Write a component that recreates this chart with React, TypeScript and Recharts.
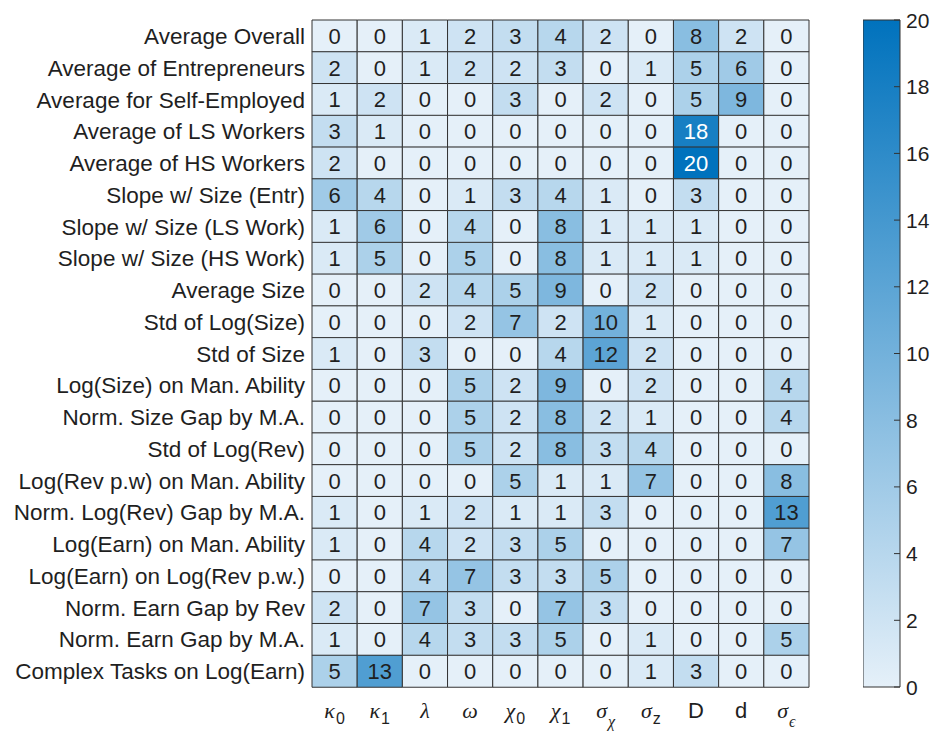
import { BarChart, Bar, XAxis, YAxis, Cell, LabelList } from "recharts";

const rowLabels = [
  "Average Overall",
  "Average of Entrepreneurs",
  "Average for Self-Employed",
  "Average of LS Workers",
  "Average of HS Workers",
  "Slope w/ Size (Entr)",
  "Slope w/ Size (LS Work)",
  "Slope w/ Size (HS Work)",
  "Average Size",
  "Std of Log(Size)",
  "Std of Size",
  "Log(Size) on Man. Ability",
  "Norm. Size Gap by M.A.",
  "Std of Log(Rev)",
  "Log(Rev p.w) on Man. Ability",
  "Norm. Log(Rev) Gap by M.A.",
  "Log(Earn) on Man. Ability",
  "Log(Earn) on Log(Rev p.w.)",
  "Norm. Earn Gap by Rev",
  "Norm. Earn Gap by M.A.",
  "Complex Tasks on Log(Earn)",
];

// column label = symbol + subscript
const colSymbols = ["κ", "κ", "λ", "ω", "χ", "χ", "σ", "σ", "D", "d", "σ"];
const colSubs = ["0", "1", "", "", "0", "1", "χ", "z", "", "", "ϵ"];

const cellValues = [
  [0, 0, 1, 2, 3, 4, 2, 0, 8, 2, 0],
  [2, 0, 1, 2, 2, 3, 0, 1, 5, 6, 0],
  [1, 2, 0, 0, 3, 0, 2, 0, 5, 9, 0],
  [3, 1, 0, 0, 0, 0, 0, 0, 18, 0, 0],
  [2, 0, 0, 0, 0, 0, 0, 0, 20, 0, 0],
  [6, 4, 0, 1, 3, 4, 1, 0, 3, 0, 0],
  [1, 6, 0, 4, 0, 8, 1, 1, 1, 0, 0],
  [1, 5, 0, 5, 0, 8, 1, 1, 1, 0, 0],
  [0, 0, 2, 4, 5, 9, 0, 2, 0, 0, 0],
  [0, 0, 0, 2, 7, 2, 10, 1, 0, 0, 0],
  [1, 0, 3, 0, 0, 4, 12, 2, 0, 0, 0],
  [0, 0, 0, 5, 2, 9, 0, 2, 0, 0, 4],
  [0, 0, 0, 5, 2, 8, 2, 1, 0, 0, 4],
  [0, 0, 0, 5, 2, 8, 3, 4, 0, 0, 0],
  [0, 0, 0, 0, 5, 1, 1, 7, 0, 0, 8],
  [1, 0, 1, 2, 1, 1, 3, 0, 0, 0, 13],
  [1, 0, 4, 2, 3, 5, 0, 0, 0, 0, 7],
  [0, 0, 4, 7, 3, 3, 5, 0, 0, 0, 0],
  [2, 0, 7, 3, 0, 7, 3, 0, 0, 0, 0],
  [1, 0, 4, 3, 3, 5, 0, 1, 0, 0, 5],
  [5, 13, 0, 0, 0, 0, 0, 1, 3, 0, 0],
];

const colorbarTicks = [0, 2, 4, 6, 8, 10, 12, 14, 16, 18, 20];
const colXTicks = colSymbols.map((_, j) => j + 0.5);

const SANS = "'Liberation Sans', Arial, Helvetica, sans-serif";
const SERIF = "'Liberation Serif', 'Times New Roman', serif";
const TEXT = "#1f1f1f";
const GRID = "#333333";

const LOW = [229, 240, 249];
const HIGH = [0, 114, 189];
const MAX = 20;

const colorFor = (v: number) => {
  const t = Math.max(0, Math.min(1, v / MAX));
  const c = LOW.map((l, k) => Math.round(l + (HIGH[k] - l) * t));
  return `rgb(${c[0]},${c[1]},${c[2]})`;
};

const tableData = rowLabels.map((name) => {
  const row: Record<string, string | number> = { name };
  colSymbols.forEach((_, j) => {
    row[`c${j}`] = 1;
  });
  return row;
});

const RowTick = (props: any) => {
  const { x, y, payload } = props;
  return (
    <text x={x} y={y} dy="0.36em" textAnchor="end" fontSize={22.5} fontFamily={SANS} fill={TEXT}>
      {payload.value}
    </text>
  );
};

const ColTick = (props: any) => {
  const { x, y, payload } = props;
  const j = Math.floor(payload.value);
  const sym = colSymbols[j];
  const sub = colSubs[j];
  const symIsGreek = /[^A-Za-z]/.test(sym);
  const subIsGreek = sub !== "" && /[^A-Za-z0-9]/.test(sub);
  return (
    <text x={x} y={y + 31} textAnchor="middle" fill={TEXT}>
      <tspan
        fontFamily={symIsGreek ? SERIF : SANS}
        fontStyle={symIsGreek ? "italic" : "normal"}
        fontSize={22}
      >
        {sym}
      </tspan>
      {sub !== "" && (
        <tspan
          dy={subIsGreek ? 9 : 6}
          dx={1}
          fontFamily={subIsGreek ? SERIF : SANS}
          fontStyle={subIsGreek ? "italic" : "normal"}
          fontSize={16}
        >
          {sub}
        </tspan>
      )}
    </text>
  );
};

const ColorbarTick = (props: any) => {
  const { x, y, payload } = props;
  const axisX = x - 6;
  return (
    <g>
      <line x1={axisX - 6} x2={axisX} y1={y} y2={y} stroke={GRID} strokeWidth={1} />
      <text x={x} y={y} dy="0.36em" textAnchor="start" fontSize={21} fontFamily={SANS} fill={TEXT}>
        {payload.value}
      </text>
    </g>
  );
};

const colorbarData = [{ name: "scale", v: MAX }];

export default function App() {
  return (
    <div style={{ position: "absolute", left: 0, top: 0, width: 938, height: 733, background: "#fff" }}>
      <div style={{ position: "absolute", left: 0, top: 0 }}>
        <BarChart
          width={938}
          height={733}
          data={tableData}
          layout="vertical"
          barCategoryGap={0}
          barGap={0}
          margin={{ top: 20, right: 129, bottom: 6, left: 12 }}
        >
          <XAxis
            type="number"
            domain={[0, colSymbols.length]}
            ticks={colXTicks}
            axisLine={false}
            tickLine={false}
            tickSize={0}
            tickMargin={0}
            height={40}
            interval={0}
            tick={<ColTick />}
          />
          <YAxis
            type="category"
            dataKey="name"
            width={300}
            axisLine={false}
            tickLine={false}
            tickSize={0}
            tickMargin={7}
            interval={0}
            tick={<RowTick />}
          />
          {colSymbols.map((_, j) => (
            <Bar
              key={j}
              dataKey={`c${j}`}
              stackId="cells"
              stroke={GRID}
              strokeWidth={1}
              isAnimationActive={false}
            >
              {rowLabels.map((_, i) => (
                <Cell key={i} fill={colorFor(cellValues[i][j])} />
              ))}
              <LabelList
                content={(p: any) => {
                  const v = cellValues[p.index][j];
                  return (
                    <text
                      x={p.x + p.width / 2}
                      y={p.y + p.height / 2}
                      dy="0.36em"
                      textAnchor="middle"
                      fontSize={22}
                      fontFamily={SANS}
                      fill={v >= 15 ? "#ffffff" : TEXT}
                    >
                      {v}
                    </text>
                  );
                }}
              />
            </Bar>
          ))}
        </BarChart>
      </div>
      <div style={{ position: "absolute", left: 863, top: 0 }}>
        <BarChart
          width={75}
          height={733}
          data={colorbarData}
          barCategoryGap={0}
          margin={{ top: 20, right: 0, bottom: 46, left: 0 }}
        >
          <defs>
            <linearGradient id="cbGrad" x1="0" y1="0" x2="0" y2="1">
              <stop offset="0%" stopColor={colorFor(MAX)} />
              <stop offset="100%" stopColor={colorFor(0)} />
            </linearGradient>
          </defs>
          <XAxis dataKey="name" hide />
          <YAxis
            orientation="right"
            type="number"
            domain={[0, MAX]}
            ticks={colorbarTicks}
            width={38}
            axisLine={false}
            tickLine={false}
            tickSize={0}
            tickMargin={6}
            interval={0}
            tick={<ColorbarTick />}
          />
          <Bar dataKey="v" fill="url(#cbGrad)" stroke={GRID} strokeWidth={1} isAnimationActive={false} />
        </BarChart>
      </div>
    </div>
  );
}
